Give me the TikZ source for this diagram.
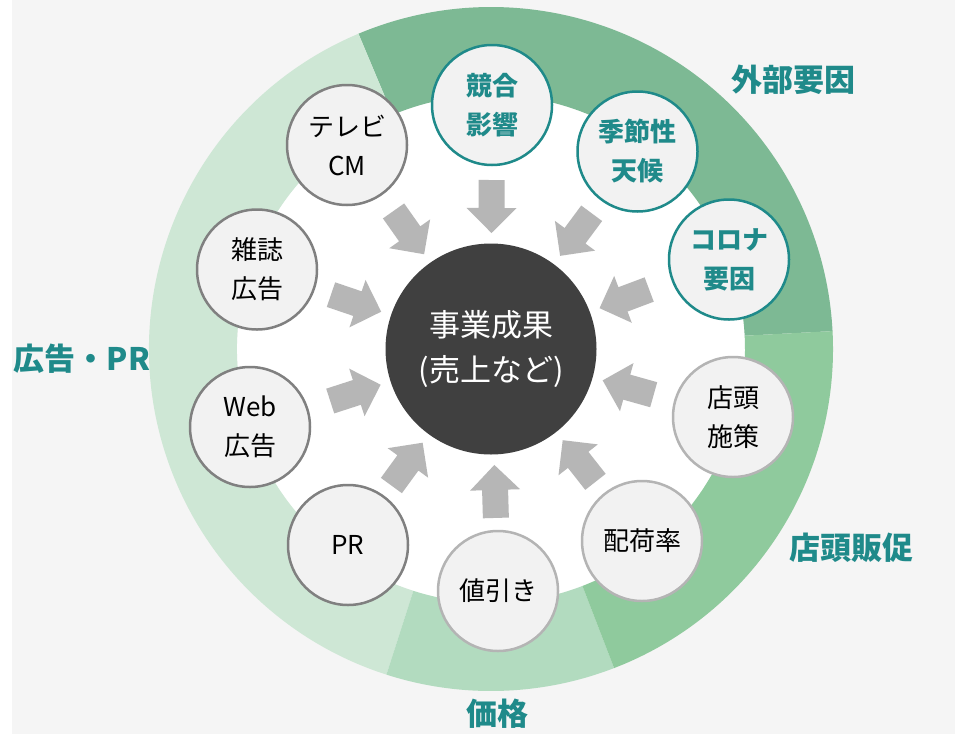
\documentclass[tikz,border=0pt]{standalone}
\usepackage{fontspec}
\setmainfont{Noto Sans CJK JP}
\usetikzlibrary{calc}
\definecolor{bgc}{HTML}{F5F5F5}
\definecolor{ringext}{HTML}{7DB994}
\definecolor{ringst}{HTML}{8FCA9D}
\definecolor{ringpr}{HTML}{B2DBBF}
\definecolor{ringad}{HTML}{CEE7D5}
\definecolor{tealc}{HTML}{1F8A8A}
\definecolor{cfill}{HTML}{F2F2F2}
\definecolor{adgray}{HTML}{808080}
\definecolor{ltgray}{HTML}{B4B4B4}
\definecolor{darkc}{HTML}{404040}
\definecolor{arrowc}{HTML}{B6B6B6}
\begin{document}
\begin{tikzpicture}[x=1pt,y=-1pt,
  circ/.style={circle, minimum size=120pt, inner sep=0pt, fill=cfill, line width=2.5pt, align=center, font=\fontsize{26}{39}\selectfont},
  adc/.style={circ, draw=adgray, text=black},
  stc/.style={circ, draw=ltgray, text=black},
  exc/.style={circ, draw=tealc, text=tealc, font=\fontsize{26}{39}\selectfont\bfseries},
  lab/.style={text=tealc, inner sep=0pt, font=\fontsize{31}{36}\selectfont\bfseries},
  corec/.style={circle, minimum size=211pt, inner sep=0pt, fill=darkc, text=white, align=center, font=\fontsize{31}{45}\selectfont}
]
\useasboundingbox (0,0) rectangle (955,734);
\fill[white] (0,0) rectangle (955,734);
\fill[bgc] (12,0) rectangle (955,734);
\begin{scope}[shift={(491,349)}, y=1pt]
  \fill[white] (0,0) circle[radius=254];
  \foreach \a/\b/\c in {3/112.8/ringext, 112.8/252.2/ringad, 252.2/291.1/ringpr, 291.1/363/ringst} {
    \fill[\c] (\a:254) -- (\a:342) arc[start angle=\a, end angle=\b, radius=342] -- (\b:254) arc[start angle=\b, end angle=\a, radius=254] -- cycle;
  }
\end{scope}

\node[corec] (core) at (491,349) {事業成果\\(売上など)};

\node[exc] (kyogo) at (492,105) {競合\\影響};
\node[exc] (kisetsu) at (637.5,151.5) {季節性\\天候};
\node[exc] (corona) at (729,259.5) {コロナ\\要因};
\node[stc] (tento) at (733,417) {店頭\\施策};
\node[stc] (haika) at (642,541) {配荷率};
\node[stc] (nebiki) at (498,591) {値引き};
\node[adc] (pr) at (348,545) {PR};
\node[adc] (web) at (250,427) {Web\\広告};
\node[adc] (zasshi) at (257,269.5) {雑誌\\広告};
\node[adc] (tv) at (347,145) {テレビ\\CM};

\foreach \n in {kyogo,kisetsu,corona,tento,haika,nebiki,pr,web,zasshi,tv} {
  \coordinate (T) at ($(core.center)!169pt!(\n.center)$);
  \coordinate (B) at ($(core.center)!141pt!(\n.center)$);
  \coordinate (P) at ($(core.center)!116pt!(\n.center)$);
  \fill[arrowc] ($(T)!13pt!90:(core.center)$) -- ($(B)!13pt!-90:(\n.center)$) -- ($(B)!25pt!-90:(\n.center)$) -- (P)
     -- ($(B)!25pt!90:(\n.center)$) -- ($(B)!13pt!90:(\n.center)$) -- ($(T)!13pt!-90:(core.center)$) -- cycle;
}

\node[lab] (lext) at (793,80) {外部要因};
\node[lab] (lst) at (851,548) {店頭販促};
\node[lab] (lpr) at (497,714) {価格};
\node[lab] (lad) at (82,359) {広告・PR};
\end{tikzpicture}
\end{document}
